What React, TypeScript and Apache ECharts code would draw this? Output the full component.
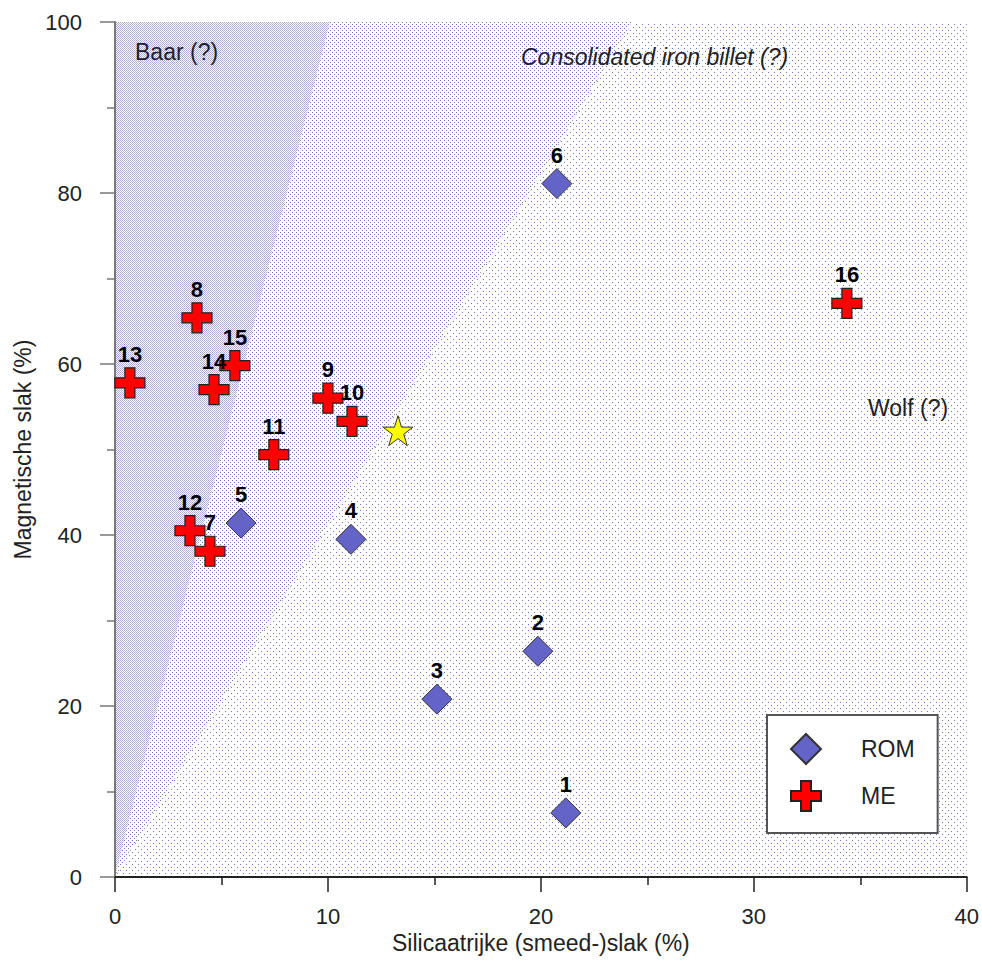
import React, { useEffect, useRef } from 'react';
import * as echarts from 'echarts';

// ---- data ----
const romIds = ['1', '2', '3', '4', '5', '6'];
const romX = [21.17, 19.86, 15.12, 11.08, 5.92, 20.75];
const romY = [7.5, 26.4, 20.8, 39.5, 41.4, 81.1];

const meIds = ['7', '8', '9', '10', '11', '12', '13', '14', '15', '16'];
const meX = [4.46, 3.85, 10.0, 11.13, 7.46, 3.52, 0.7, 4.65, 5.63, 34.37];
const meY = [38.1, 65.4, 56.0, 53.3, 49.4, 40.5, 57.8, 57.0, 59.8, 67.1];

const starX = [13.29];
const starY = [52.2];

const zoneDense = [[0, 0], [10.1, 100], [0, 100]];
const zoneMedium = [[0, 0], [24.3, 100], [10.1, 100]];
const zoneSparse = [[0, 0], [40, 0], [40, 100], [24.3, 100]];
const zones = [zoneDense, zoneMedium, zoneSparse];

const zoneLabels = ['Baar (?)', 'Consolidated iron billet (?)', 'Wolf (?)'];

const xMin = 0, xMax = 40, xStep = 10;
const yMin = 0, yMax = 100, yStep = 20;

const FONT = '"Liberation Sans", Arial, Helvetica, sans-serif';
const CROSS = 'path://M10,0H20V10H30V20H20V30H10V20H0V10H10Z';
const STAR = 'path://M50,0L61.23,34.55L97.55,34.55L68.17,55.9L79.39,90.45L50,69.1L20.61,90.45L31.83,55.9L2.45,34.55L38.77,34.55Z';

function makePattern(w: number, h: number, dots: Array<[number, number, string]>) {
  const c = document.createElement('canvas');
  c.width = w;
  c.height = h;
  const ctx = c.getContext('2d')!;
  ctx.fillStyle = '#ffffff';
  ctx.fillRect(0, 0, w, h);
  dots.forEach(([x, y, col]) => {
    ctx.fillStyle = col;
    ctx.fillRect(x, y, 1, 1);
  });
  return { image: c.toDataURL(), repeat: 'repeat', imageWidth: w, imageHeight: h } as any;
}

export default function App() {
  const ref = useRef<HTMLDivElement>(null);
  useEffect(() => {
    const chart = echarts.init(ref.current!, null, { renderer: 'svg' });
    const dot = 'rgb(115,115,195)';
    const patterns = [
      makePattern(2, 2, [[0, 0, 'rgb(165,165,212)'], [1, 1, 'rgb(180,180,218)']]),
      makePattern(4, 4, [[0, 0, dot], [2, 2, dot]]),
      makePattern(6, 6, [[0, 0, dot], [3, 3, dot]]),
    ];
    const labelStyle = {
      show: true,
      position: 'top',
      distance: 2,
      formatter: (p: any) => p.name,
      fontFamily: FONT,
      fontWeight: 'bold',
      fontSize: 22,
      color: '#000',
      opacity: 1,
    };
    const option: any = {
      animation: false,
      textStyle: { fontFamily: FONT },
      grid: { left: 115, right: 15, top: 22, bottom: 86, containLabel: false },
      xAxis: {
        type: 'value',
        min: xMin,
        max: xMax,
        interval: xStep,
        name: 'Silicaatrijke (smeed-)slak (%)',
        nameLocation: 'middle',
        nameGap: 53,
        nameTextStyle: { fontSize: 23, color: '#222', fontFamily: FONT },
        axisLine: { show: true, lineStyle: { color: '#222', width: 2 } },
        axisTick: { show: true, length: 15, lineStyle: { color: '#222', width: 1.5 } },
        minorTick: { show: true, splitNumber: 2, length: 8, lineStyle: { color: '#222', width: 1.5 } },
        axisLabel: { fontSize: 22, color: '#222', margin: 28, fontFamily: FONT },
        splitLine: { show: false },
      },
      yAxis: {
        type: 'value',
        min: yMin,
        max: yMax,
        interval: yStep,
        name: 'Magnetische slak (%)',
        nameLocation: 'middle',
        nameGap: 81,
        nameTextStyle: { fontSize: 23, color: '#222', fontFamily: FONT },
        axisLine: { show: true, lineStyle: { color: '#777', width: 2 } },
        axisTick: { show: true, length: 15, lineStyle: { color: '#777', width: 1.5 } },
        minorTick: { show: true, splitNumber: 2, length: 8, lineStyle: { color: '#777', width: 1.5 } },
        axisLabel: { fontSize: 22, color: '#222', margin: 33, fontFamily: FONT },
        splitLine: { show: false },
      },
      legend: {
        data: ['ROM', 'ME'],
        orient: 'vertical',
        left: 767,
        top: 715,
        padding: [18, 23, 21, 23],
        itemWidth: 30,
        itemHeight: 30,
        itemGap: 15,
        backgroundColor: '#ffffff',
        borderColor: '#555',
        borderWidth: 2,
        textStyle: { fontSize: 23, color: '#222', fontFamily: FONT, padding: [0, 0, 0, 35] },
      },
      series: [
        {
          type: 'custom',
          name: 'zones',
          silent: true,
          z: 0,
          data: zones.map((_, i) => i),
          renderItem: (params: any, api: any) => {
            const pts = zones[params.dataIndex].map((p) => api.coord(p));
            return {
              type: 'polygon',
              shape: { points: pts },
              style: { fill: patterns[params.dataIndex], stroke: null },
            };
          },
        },
        {
          type: 'scatter',
          name: 'ROM',
          z: 3,
          symbol: 'diamond',
          symbolSize: 30,
          itemStyle: { color: '#6464c8', borderColor: '#333', borderWidth: 1, opacity: 1 },
          label: labelStyle,
          data: romIds.map((id, i) => ({ name: id, value: [romX[i], romY[i]] })),
        },
        {
          type: 'scatter',
          name: 'ME',
          z: 4,
          symbol: CROSS,
          symbolSize: 30,
          itemStyle: { color: '#ff0000', borderColor: '#222', borderWidth: 1.2, opacity: 1 },
          label: labelStyle,
          data: meIds.map((id, i) => ({ name: id, value: [meX[i], meY[i]] })),
        },
        {
          type: 'scatter',
          name: 'star',
          z: 4,
          symbol: STAR,
          symbolSize: 30,
          itemStyle: { color: '#ffff00', borderColor: '#333', borderWidth: 1, opacity: 1 },
          data: starX.map((x, i) => [x, starY[i]]),
        },
      ],
      graphic: [
        {
          type: 'text',
          left: 135,
          top: 40,
          z: 100,
          silent: true,
          style: { text: zoneLabels[0], font: `23px ${FONT}`, fill: '#222' },
        },
        {
          type: 'text',
          left: 521,
          top: 45,
          z: 100,
          silent: true,
          style: { text: zoneLabels[1], font: `italic 23px ${FONT}`, fill: '#222' },
        },
        {
          type: 'text',
          left: 868,
          top: 396,
          z: 100,
          silent: true,
          style: { text: zoneLabels[2], font: `23px ${FONT}`, fill: '#222' },
        },
      ],
    };
    chart.setOption(option);
    return () => chart.dispose();
  }, []);
  return (
    <div
      ref={ref}
      style={{ position: 'fixed', left: 0, top: 0, width: 982, height: 963, background: '#fff' }}
    />
  );
}
